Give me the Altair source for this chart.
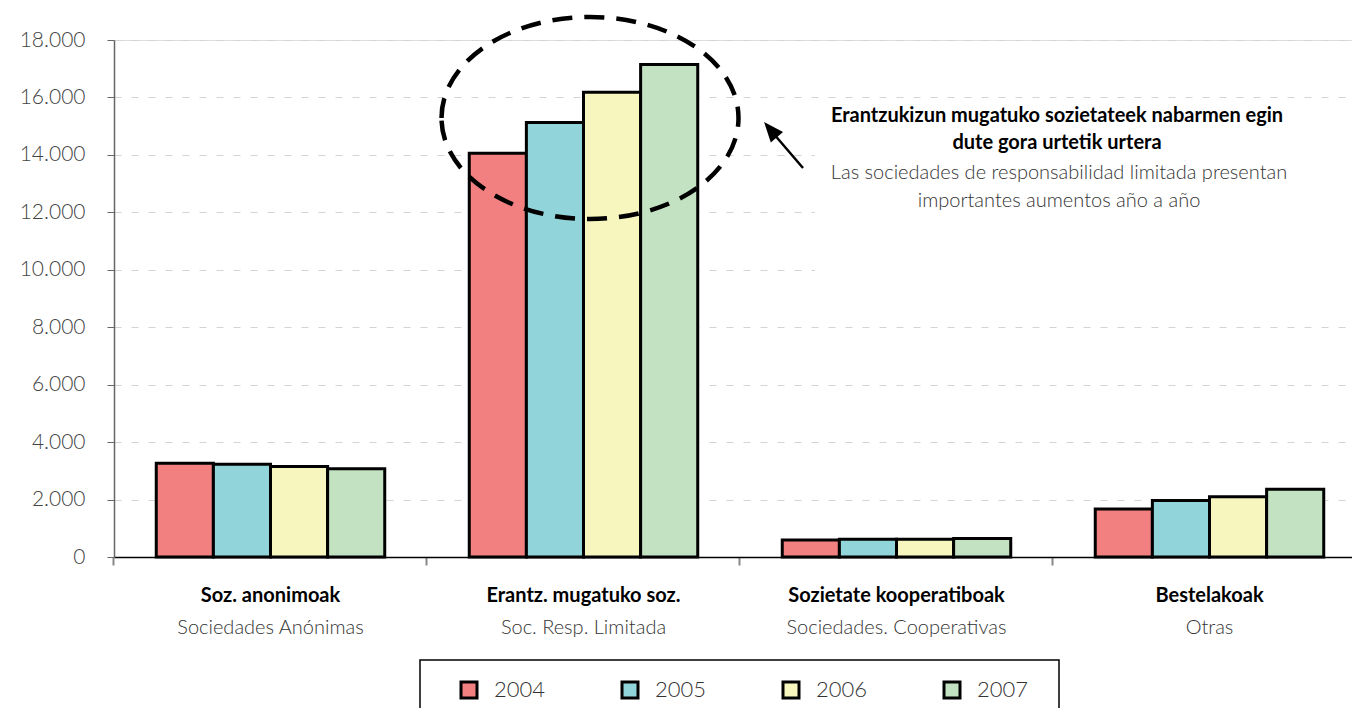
import altair as alt
import pandas as pd

# ---- data ----
categories = ["Soz. anonimoak", "Erantz. mugatuko soz.", "Sozietate kooperatiboak", "Bestelakoak"]
categories_es = ["Sociedades Anónimas", "Soc. Resp. Limitada", "Sociedades. Cooperativas", "Otras"]
years = ["2004", "2005", "2006", "2007"]
v2004 = [3260, 14060, 590, 1670]
v2005 = [3230, 15130, 620, 1970]
v2006 = [3150, 16180, 620, 2100]
v2007 = [3070, 17150, 640, 2360]
colors = ["#F28080", "#91D4DA", "#F6F6BE", "#C3E2C2"]
y_ticks = [0, 2000, 4000, 6000, 8000, 10000, 12000, 14000, 16000, 18000]

note_bold = ["Erantzukizun mugatuko sozietateek nabarmen egin", "dute gora urtetik urtera"]
note_reg = ["Las sociedades de responsabilidad limitada presentan", "importantes aumentos año a año"]

FONT = "Lato"

series = {"2004": v2004, "2005": v2005, "2006": v2006, "2007": v2007}
rows = []
for yr in years:
    for c, v in zip(categories, series[yr]):
        rows.append({"cat": c, "year": yr, "value": v})
df = pd.DataFrame(rows)
df_lab = pd.DataFrame({"cat": categories, "es": categories_es})
one = pd.DataFrame({"a": [0]})

W, H = 1252, 517

x_scale = alt.Scale(domain=categories, paddingInner=0.27, paddingOuter=0.135)

bars = alt.Chart(df).mark_bar(stroke="black", strokeWidth=3, strokeJoin="miter").encode(
    x=alt.X("cat:N", scale=x_scale, sort=categories, title=None,
            axis=alt.Axis(labels=False, bandPosition=-0.185, domainColor="black", domainWidth=1.5,
                          tickColor="#888888", tickWidth=2, tickSize=8, grid=False)),
    xOffset=alt.XOffset("year:N", sort=years, scale=alt.Scale(domain=years, paddingInner=0, paddingOuter=0)),
    y=alt.Y("value:Q", scale=alt.Scale(domain=[0, 18000], nice=False), title=None,
            axis=alt.Axis(values=y_ticks, labelExpr="replace(format(datum.value, ','), ',', '.')",
                          labelFont=FONT, labelFontSize=21, labelFontWeight=300, labelColor="#444444",
                          labelPadding=22,
                          tickSize=7, tickColor="#666666", domainColor="#666666", domainWidth=1.5,
                          grid=True, gridDash=[7, 10], gridColor="#d4d4d4", gridWidth=1.2)),
    color=alt.Color("year:N", scale=alt.Scale(domain=years, range=colors),
                    legend=alt.Legend(title=None, orient="none", legendX=344, legendY=639,
                                      direction="horizontal", columns=4, symbolType="square",
                                      symbolSize=256, symbolStrokeColor="black", symbolStrokeWidth=3,
                                      labelFont=FONT, labelFontSize=22, labelFontWeight=300,
                                      labelColor="#333333",
                                      labelOffset=14, columnPadding=70, padding=0)),
)

lab_bold = alt.Chart(df_lab).mark_text(font=FONT, fontSize=20, fontWeight="bold", color="black").encode(
    x=alt.X("cat:N", scale=x_scale, sort=categories), y=alt.value(556), text="cat:N")
lab_es = alt.Chart(df_lab).mark_text(font=FONT, fontSize=20, fontWeight=300, color="#333333").encode(
    x=alt.X("cat:N", scale=x_scale, sort=categories), y=alt.value(588), text="es:N")

# white panel behind annotation (hides gridlines)
panel = alt.Chart(one).mark_rect(fill="white").encode(
    x=alt.value(701), x2=alt.value(1260), y=alt.value(64), y2=alt.value(250))

ellipse = alt.Chart(one).mark_point(
    shape="M -1 0 A 1 0.68 0 1 1 1 0 A 1 0.68 0 1 1 -1 0 Z",
    size=297 * 297, filled=False, stroke="black", strokeWidth=4.5, strokeDash=[20, 12], opacity=1
).encode(x=alt.value(476), y=alt.value(78))

arrow_line = alt.Chart(one).mark_rule(color="black", strokeWidth=2.5).encode(
    x=alt.value(689), y=alt.value(128), x2=alt.value(659), y2=alt.value(93))
arrow_head = alt.Chart(one).mark_point(
    shape="M 0 -1 L 0.8 1 L -0.8 1 Z", size=400, filled=True, fill="black", opacity=1, angle=320
).encode(x=alt.value(656.5), y=alt.value(89.6))

t1 = alt.Chart(one).mark_text(font=FONT, fontSize=20, fontWeight="bold", color="black").encode(
    x=alt.value(943), y=alt.value(76), text=alt.value(note_bold[0]))
t2 = alt.Chart(one).mark_text(font=FONT, fontSize=20, fontWeight="bold", color="black").encode(
    x=alt.value(943), y=alt.value(103), text=alt.value(note_bold[1]))
t3 = alt.Chart(one).mark_text(font=FONT, fontSize=20, fontWeight=300, color="#333333").encode(
    x=alt.value(945), y=alt.value(133), text=alt.value(note_reg[0]))
t4 = alt.Chart(one).mark_text(font=FONT, fontSize=20, fontWeight=300, color="#333333").encode(
    x=alt.value(945), y=alt.value(161), text=alt.value(note_reg[1]))

legend_box = alt.Chart(one).mark_rect(fill=None, stroke="black", strokeWidth=1.5).encode(
    x=alt.value(306), x2=alt.value(945), y=alt.value(620), y2=alt.value(690))

chart = alt.layer(
    bars, lab_bold, lab_es, panel, ellipse, arrow_line, arrow_head, t1, t2, t3, t4, legend_box
).properties(
    width=W, height=H,
    autosize=alt.AutoSizeParams(type="none"),
    padding={"left": 106, "top": 32, "right": -14, "bottom": 151},
).configure_view(stroke=None).configure(background="white")

chart.save("out.html", embed_options={"renderer": "svg", "actions": False})
